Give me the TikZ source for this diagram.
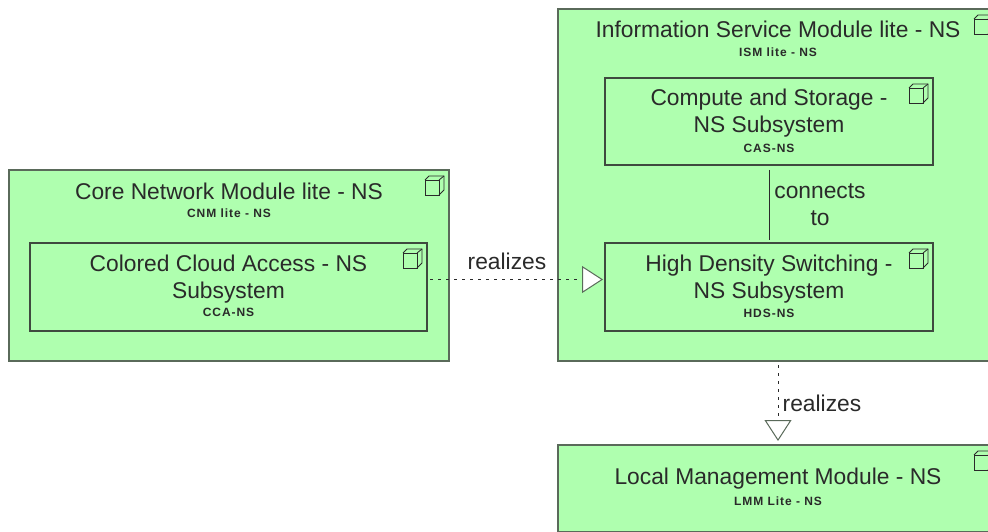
\documentclass[tikz,border=0pt]{standalone}
\usepackage{fontspec}
\setmainfont{Liberation Sans}
\usetikzlibrary{arrows.meta}
\definecolor{modfill}{HTML}{AFFFAF}
\definecolor{modline}{HTML}{5A6A5A}
\definecolor{modtext}{HTML}{2A2A2A}
\tikzset{
    module/.style={draw=modline, line width=1.4pt, fill=modfill, inner sep=0pt, outer sep=0pt},
    subsystem/.style={module, draw=modline!70!black, line width=1.2pt},
    title/.style={font=\fontsize{22.8}{27}\selectfont, text=modtext, align=center, inner sep=0pt},
    code/.style={font=\fontsize{12}{14}\selectfont\bfseries\addfontfeature{LetterSpace=8}, text=modtext, inner sep=0pt},
    link/.style={draw=modtext, line width=0.7pt},
    realize/.style={link, dash pattern=on 3pt off 5pt,
        -{Triangle[length=21pt, width=27pt, fill=white, color=modline, line width=1pt]}},
    cubeicon/.pic={
        \draw[draw=modtext, line width=0.8pt] (0,4) rectangle (14,19);
        \draw[draw=modtext, line width=0.8pt] (0,4) -- (4,0) -- (19,0) -- (19,14) -- (14,19);
        \draw[draw=modtext, line width=0.8pt] (14,4) -- (19,0);
    }
}
\begin{document}
\begin{tikzpicture}[x=1pt,y=-1pt]
\clip (0,0) rectangle (988,532);
\fill[white] (0,0) rectangle (988,532);
\node[module, minimum width=440pt, minimum height=191pt] (cnm) at (229,265.5) {};
\node[subsystem, minimum width=397pt, minimum height=88pt] (cca) at (228.5,287) {};
\node[module, minimum width=440pt, minimum height=352pt] (ism) at (778,185) {};
\node[subsystem, minimum width=328pt, minimum height=87pt] (cas) at (769,121.5) {};
\node[subsystem, minimum width=328pt, minimum height=88pt] (hds) at (769,287) {};
\node[module, minimum width=440pt, minimum height=87pt] (lmm) at (778,488.5) {};
\foreach \m in {cnm, cca, ism, cas, hds, lmm}
    \pic at ([xshift=-24pt,yshift=-6pt]\m.north east) {cubeicon};
\node[title] (cnmtitle) at (229,191) {Core Network Module lite - NS};
\node[code] (cnmcode) at (229,213) {CNM lite - NS};
\node[title] (ccatitle) at (228.5,279) {Colored Cloud Access - NS\\Subsystem};
\node[code] (ccacode) at (228.5,312) {CCA-NS};
\node[title] (ismtitle) at (778,29) {Information Service Module lite - NS};
\node[code] (ismcode) at (778,52) {ISM lite - NS};
\node[title] (castitle) at (769,113) {Compute and Storage -\\NS Subsystem};
\node[code] (cascode) at (769,148) {CAS-NS};
\node[title] (hdstitle) at (769,279) {High Density Switching -\\NS Subsystem};
\node[code] (hdscode) at (769,313) {HDS-NS};
\node[title] (lmmtitle) at (778,479) {Local Management Module - NS};
\node[code] (lmmcode) at (778,501) {LMM Lite - NS};
\draw[link, shorten <=5pt, shorten >=3pt] (cas.south) -- (hds.north);
\draw[realize, shorten <=3pt, shorten >=2pt] ([yshift=7.5pt]cca.east) -- ([yshift=7.5pt]hds.west);
\draw[realize, shorten <=4pt, shorten >=4pt] (ism.south) -- (lmm.north);
\node[title] (connects) at (820,205) {connects\\to};
\node[title] (realizesh) at (507,261) {realizes};
\node[title] (realizesv) at (822,403) {realizes};
\end{tikzpicture}
\end{document}
